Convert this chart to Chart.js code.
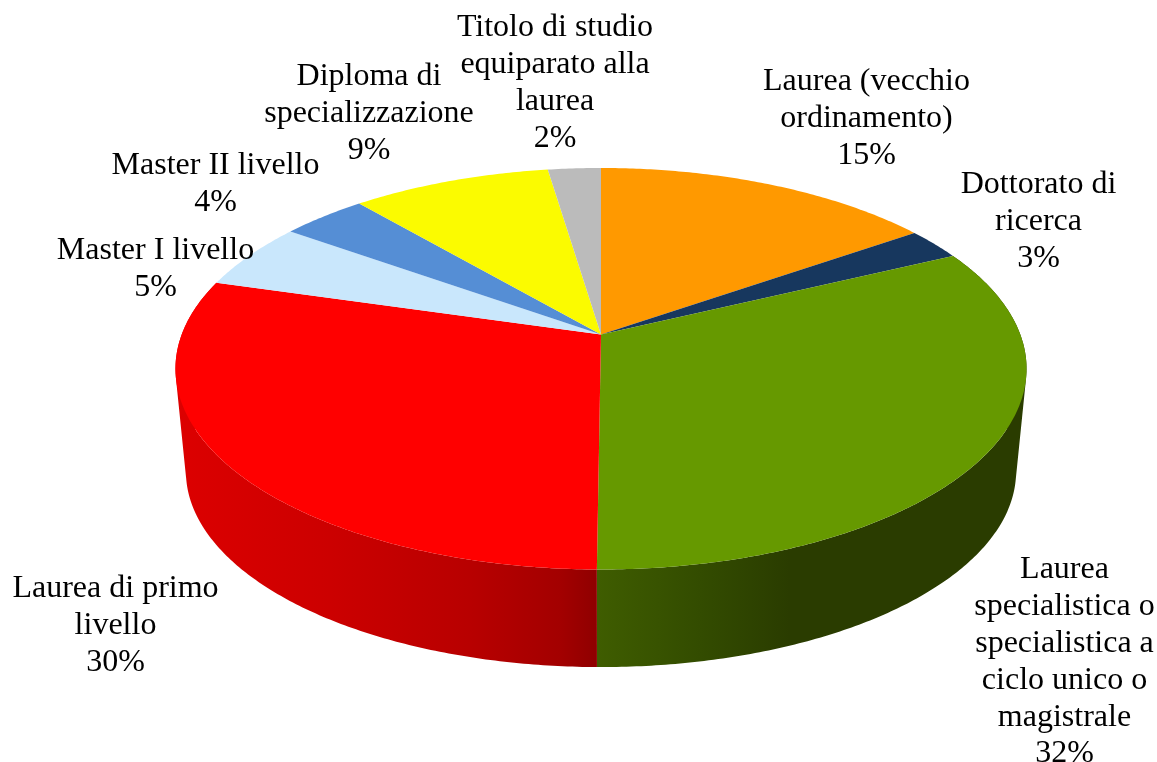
<!DOCTYPE html>
<html>
<head>
<meta charset="utf-8">
<style>
  html, body { margin: 0; padding: 0; background: #fff; }
  canvas { display: block; }
</style>
</head>
<body>
<canvas id="myChart" width="1157" height="762"></canvas>
<script src="https://cdn.jsdelivr.net/npm/chart.js@4"></script>
<script>
const categories = [
  ["Laurea (vecchio", "ordinamento)"],
  ["Dottorato di", "ricerca"],
  ["Laurea", "specialistica o", "specialistica a", "ciclo unico o", "magistrale"],
  ["Laurea di primo", "livello"],
  ["Master I livello"],
  ["Master II livello"],
  ["Diploma di", "specializzazione"],
  ["Titolo di studio", "equiparato alla", "laurea"],
];
const values = [15.31, 2.56, 32.26, 29.35, 5.38, 3.85, 8.92, 2.37];
const percentLabels = ["15%", "3%", "32%", "30%", "5%", "4%", "9%", "2%"];
const colors = ["#ff9900", "#17375e", "#669900", "#ff0000", "#c9e7fc", "#558ed5", "#fbfb00", "#bbbbbb"];

// centre of the first line of each label
const labelAnchors = [
  [866.5, 82], [1038.5, 185], [1064.5, 569.5], [115.5, 589],
  [155.5, 251], [215.5, 166], [369, 77], [555, 28],
];

// how the flat disc is tilted on the page
const top3d = { cx: 601, cy: 334.5, rx: 419.3, ry: 194.9 };
const bottom3d = { cx: 601, cy: 438, rx: 409, ry: 190 };
const tilt = 0.1706;

function project(plane, angle) {
  const d = 1 - tilt * Math.sin(angle);
  return [plane.cx + (plane.rx * Math.cos(angle)) / d, plane.cy + (plane.ry * Math.sin(angle)) / d];
}

function rimPoints(plane, start, end) {
  const steps = Math.max(2, Math.ceil((end - start) / 0.01));
  const pts = [];
  for (let i = 0; i <= steps; i++) {
    pts.push(project(plane, start + ((end - start) * i) / steps));
  }
  return pts;
}

function addPath(ctx, pts) {
  pts.forEach((p, i) => (i ? ctx.lineTo(p[0], p[1]) : ctx.moveTo(p[0], p[1])));
  ctx.closePath();
}

function signedArea(pts) {
  return pts.reduce((sum, p, i) => {
    const q = pts[(i + 1) % pts.length];
    return sum + p[0] * q[1] - q[0] * p[1];
  }, 0);
}

function wallGradient(ctx, stops) {
  const g = ctx.createLinearGradient(180, 0, 1030, 0);
  stops.forEach((s) => g.addColorStop((s[0] - 180) / 850, s[1]));
  return g;
}

const pie3d = {
  id: "pie3d",
  beforeDatasetsDraw(chart) {
    const ctx = chart.ctx;
    const arcs = chart.getDatasetMeta(0).data;

    const walls = {
      2: wallGradient(ctx, [[597, "#3f5d00"], [700, "#334c00"], [790, "#2a3c00"], [1030, "#2a3c00"]]),
      3: wallGradient(ctx, [[180, "#dc0000"], [330, "#cc0000"], [470, "#b80000"], [560, "#a30000"], [597, "#8f0000"]]),
    };

    // side walls first, the top face covers whatever is behind it.
    // all quads go in one path (same winding) so there are no seams between them
    arcs.forEach((arc, i) => {
      if (!walls[i]) return;
      const upper = rimPoints(top3d, arc.startAngle, arc.endAngle);
      const lower = rimPoints(bottom3d, arc.startAngle, arc.endAngle);
      ctx.beginPath();
      for (let n = 0; n < upper.length - 1; n++) {
        const quad = [upper[n], upper[n + 1], lower[n + 1], lower[n]];
        addPath(ctx, signedArea(quad) < 0 ? quad.reverse() : quad);
      }
      ctx.fillStyle = walls[i];
      ctx.fill();
    });

    arcs.forEach((arc, i) => {
      ctx.beginPath();
      addPath(ctx, [[top3d.cx, top3d.cy]].concat(rimPoints(top3d, arc.startAngle, arc.endAngle)));
      ctx.fillStyle = colors[i];
      ctx.fill();
    });
    return false;
  },
  afterDraw(chart) {
    const ctx = chart.ctx;
    ctx.save();
    ctx.fillStyle = "#000";
    ctx.font = '32px "Liberation Serif"';
    ctx.textAlign = "center";
    ctx.textBaseline = "middle";
    categories.forEach((lines, i) => {
      const [x, y] = labelAnchors[i];
      lines.concat(percentLabels[i]).forEach((line, n) => ctx.fillText(line, x, y + n * 36.9));
    });
    ctx.restore();
  },
};

new Chart(document.getElementById("myChart"), {
  type: "pie",
  data: {
    labels: categories.map((c) => c.join(" ")),
    datasets: [{ data: values, backgroundColor: colors, borderWidth: 0 }],
  },
  options: {
    responsive: false,
    animation: false,
    plugins: {
      legend: { display: false },
      tooltip: { enabled: false },
    },
  },
  plugins: [pie3d],
});
</script>
</body>
</html>
